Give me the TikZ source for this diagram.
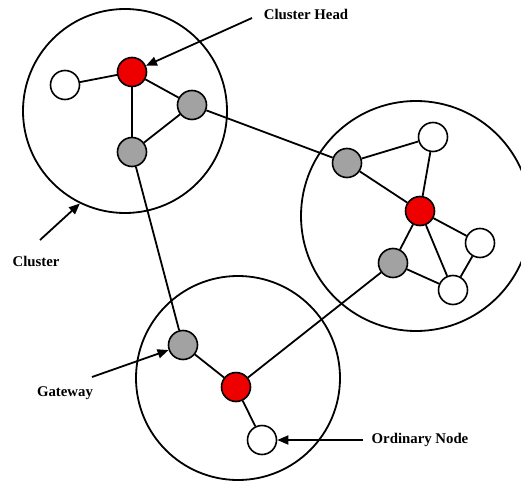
\documentclass[tikz,border=0pt]{standalone}
\usepackage{fontspec}
\setmainfont{Liberation Serif}
\usetikzlibrary{arrows.meta}
\definecolor{chred}{RGB}{238,0,0}
\definecolor{gwgray}{RGB}{162,162,162}

\begin{document}
\begin{tikzpicture}
		[x=1pt,y=-1pt,
		cluster/.style={circle,draw=black,line width=1.8pt,inner sep=0pt},
		head/.style={circle,draw=black,fill=chred,line width=1.6pt,inner sep=0pt, minimum size=29pt},
		gateway/.style={circle,draw=black,fill=gwgray,line width=1.6pt,inner sep=0pt, minimum size=29pt},
		ordinary/.style={circle,draw=black,fill=white,line width=1.6pt,inner sep=0pt, minimum size=29pt},
		link/.style={line width=1.8pt},
		pointer/.style={line width=1.8pt,-{Triangle[length=11pt,width=9pt]}},
		tag/.style={font=\fontsize{14.8}{16}\selectfont\bfseries}]
		\clip (0,0) rectangle (521,481);

		\node [cluster, minimum size=204pt] (c1) at (125,111) {};
		\node [cluster, minimum size=230pt] (c2) at (416,216) {};
		\node [cluster, minimum size=204pt] (c3) at (238,378) {};

		\node [ordinary] (on1) at (65,85) {};
		\node [head] (ch1) at (132,72) {};
		\node [gateway] (gw1a) at (192,105) {};
		\node [gateway] (gw1b) at (132,152) {};

		\node [gateway] (gw2a) at (347,163) {};
		\node [ordinary] (on2a) at (433,137) {};
		\node [head] (ch2) at (420,211) {};
		\node [ordinary] (on2b) at (480,243) {};
		\node [gateway] (gw2b) at (393,263) {};
		\node [ordinary] (on2c) at (453,290) {};

		\node [gateway] (gw3) at (183,345) {};
		\node [head] (ch3) at (236,387) {};
		\node [ordinary] (on3) at (262,440) {};

		\draw [link] (on1) -- (ch1);
		\draw [link] (ch1) -- (gw1a);
		\draw [link] (ch1) -- (gw1b);
		\draw [link] (gw1a) -- (gw1b);
		\draw [link] (gw1a) -- (gw2a);
		\draw [link] (gw1b) -- (gw3);
		\draw [link] (gw2a) -- (on2a);
		\draw [link] (gw2a) -- (ch2);
		\draw [link] (on2a) -- (ch2);
		\draw [link] (ch2) -- (on2b);
		\draw [link] (ch2) -- (gw2b);
		\draw [link] (ch2) -- (on2c);
		\draw [link] (on2b) -- (on2c);
		\draw [link] (gw2b) -- (on2c);
		\draw [link] (gw2b) -- (ch3);
		\draw [link] (gw3) -- (ch3);
		\draw [link] (ch3) -- (on3);

		\node [tag] (chtag) at (306,14) {Cluster Head};
		\node [tag] (cltag) at (36,261) {Cluster};
		\node [tag] (gwtag) at (65,393) {Gateway};
		\node [tag] (ontag) at (420,440) {Ordinary Node};
		\coordinate (cht) at (252,18);
		\coordinate (clt) at (40,240);
		\coordinate (gwt) at (92,377);
		\coordinate (ont) at (363,440);

		\draw [pointer] (cht) -- (ch1);
		\draw [pointer] (clt) -- (c1.244);
		\draw [pointer] (gwt) -- (gw3);
		\draw [pointer] (ont) -- (on3);

	\end{tikzpicture}
\end{document}
